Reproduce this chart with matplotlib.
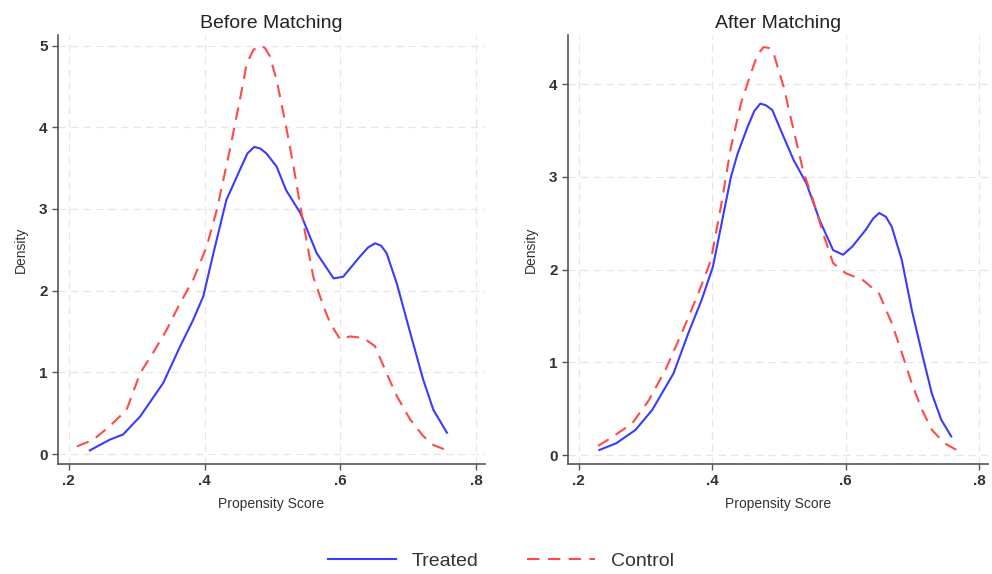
import numpy as np
import matplotlib.pyplot as plt
from matplotlib.lines import Line2D

plt.rcParams['font.family'] = ['Liberation Sans', 'DejaVu Sans']

# Before matching: kernel density curves
beforeTreatedX = [0.231, 0.260, 0.280, 0.305, 0.339, 0.364, 0.383, 0.398, 0.413, 0.432, 0.452, 0.463, 0.473,
                  0.482, 0.491, 0.506, 0.520, 0.541, 0.565, 0.590, 0.604, 0.629, 0.641, 0.651, 0.660, 0.668,
                  0.683, 0.703, 0.722, 0.737, 0.757]
beforeTreatedY = [0.045, 0.175, 0.24, 0.46, 0.87, 1.32, 1.64, 1.93, 2.46, 3.11, 3.48, 3.68, 3.76,
                  3.74, 3.68, 3.52, 3.23, 2.95, 2.46, 2.15, 2.17, 2.42, 2.53, 2.58, 2.55, 2.46,
                  2.09, 1.48, 0.91, 0.54, 0.26]
beforeControlX = [0.212, 0.236, 0.260, 0.285, 0.305, 0.324, 0.344, 0.364, 0.383, 0.403, 0.418, 0.437,
                  0.452, 0.462, 0.472, 0.482, 0.489, 0.496, 0.506, 0.520, 0.531, 0.541, 0.550, 0.560,
                  0.575, 0.585, 0.600, 0.614, 0.634, 0.651, 0.668, 0.683, 0.703, 0.722, 0.737, 0.757]
beforeControlY = [0.094, 0.175, 0.34, 0.54, 0.99, 1.24, 1.52, 1.85, 2.13, 2.54, 2.99, 3.72,
                  4.34, 4.78, 4.95, 5.0, 4.97, 4.87, 4.58, 4.01, 3.52, 3.03, 2.62, 2.17,
                  1.81, 1.60, 1.40, 1.44, 1.42, 1.32, 0.99, 0.71, 0.42, 0.22, 0.11, 0.045]

# After matching
afterTreatedX = [0.231, 0.256, 0.285, 0.310, 0.342, 0.364, 0.384, 0.401, 0.413, 0.428, 0.438, 0.453,
                 0.463, 0.472, 0.481, 0.490, 0.507, 0.522, 0.541, 0.561, 0.581, 0.596, 0.610, 0.630,
                 0.641, 0.650, 0.660, 0.669, 0.684, 0.699, 0.714, 0.729, 0.743, 0.758]
afterTreatedY = [0.054, 0.126, 0.27, 0.485, 0.88, 1.31, 1.67, 2.03, 2.46, 3.0, 3.25, 3.54,
                 3.71, 3.79, 3.77, 3.72, 3.43, 3.18, 2.93, 2.53, 2.21, 2.16, 2.25, 2.43,
                 2.55, 2.61, 2.57, 2.46, 2.10, 1.56, 1.10, 0.66, 0.38, 0.20]
afterControlX = [0.229, 0.251, 0.280, 0.305, 0.330, 0.354, 0.379, 0.398, 0.413, 0.428, 0.443, 0.458,
                 0.468, 0.477, 0.485, 0.492, 0.507, 0.522, 0.536, 0.551, 0.566, 0.581, 0.600, 0.625,
                 0.650, 0.669, 0.684, 0.699, 0.714, 0.729, 0.748, 0.766]
afterControlY = [0.097, 0.198, 0.34, 0.59, 0.92, 1.31, 1.74, 2.10, 2.68, 3.32, 3.79, 4.12,
                 4.32, 4.40, 4.39, 4.33, 3.97, 3.50, 3.07, 2.75, 2.39, 2.07, 1.96, 1.89,
                 1.74, 1.42, 1.10, 0.77, 0.49, 0.27, 0.126, 0.054]

xTicks = [0.2, 0.4, 0.6, 0.8]
xTickLabels = ['.2', '.4', '.6', '.8']

blue = '#3b3bff'
red = '#ff4a4a'
axisGray = '#555555'


def styleAxes(ax, title, ylim, yticks):
    ax.set_xlim(0.184, 0.813)
    ax.set_ylim(*ylim)
    ax.set_xticks(xTicks)
    ax.set_xticklabels(xTickLabels)
    ax.set_yticks(yticks)
    ax.grid(True, color='#e6e6e6', linestyle=(0, (6, 4)), linewidth=0.9)
    ax.set_axisbelow(True)
    for side in ['top', 'right']:
        ax.spines[side].set_visible(False)
    for side in ['left', 'bottom']:
        ax.spines[side].set_color(axisGray)
        ax.spines[side].set_linewidth(1.2)
    ax.tick_params(colors=axisGray, labelcolor='#333333', labelsize=11, width=1.0, length=4)
    for lab in ax.get_xticklabels() + ax.get_yticklabels():
        lab.set_fontweight('bold')
    ax.set_title(title, fontsize=14, color='#222222', pad=5)
    ax.set_xlabel('Propensity Score', fontsize=10, color='#333333', labelpad=6)
    ax.set_ylabel('Density', fontsize=10, color='#333333', labelpad=8)


fig = plt.figure(figsize=(9.92, 5.74), dpi=100)
ax1 = fig.add_axes([58/992, 110/574, 427/992, 429/574])
ax2 = fig.add_axes([568/992, 110/574, 420/992, 429/574])

lineKw = dict(linewidth=1.5, solid_joinstyle='round', dash_joinstyle='round')
ax1.plot(beforeTreatedX, beforeTreatedY, color=blue, **lineKw)
ax1.plot(beforeControlX, beforeControlY, color=red, dashes=(6, 4), **lineKw)
styleAxes(ax1, 'Before Matching', (-0.122, 5.13), [0, 1, 2, 3, 4, 5])

ax2.plot(afterTreatedX, afterTreatedY, color=blue, **lineKw)
ax2.plot(afterControlX, afterControlY, color=red, dashes=(6, 4), **lineKw)
styleAxes(ax2, 'After Matching', (-0.097, 4.53), [0, 1, 2, 3, 4])

handles = [Line2D([], [], color=blue, linewidth=1.5),
           Line2D([], [], color=red, linewidth=1.5, dashes=(6, 4))]
fig.legend(handles, ['Treated', 'Control'], loc='center', bbox_to_anchor=(0.505, 0.022),
           ncol=2, frameon=False, fontsize=14, handlelength=3.5, columnspacing=2.5,
           labelcolor='#333333')

fig.savefig('out.png', dpi=100)
